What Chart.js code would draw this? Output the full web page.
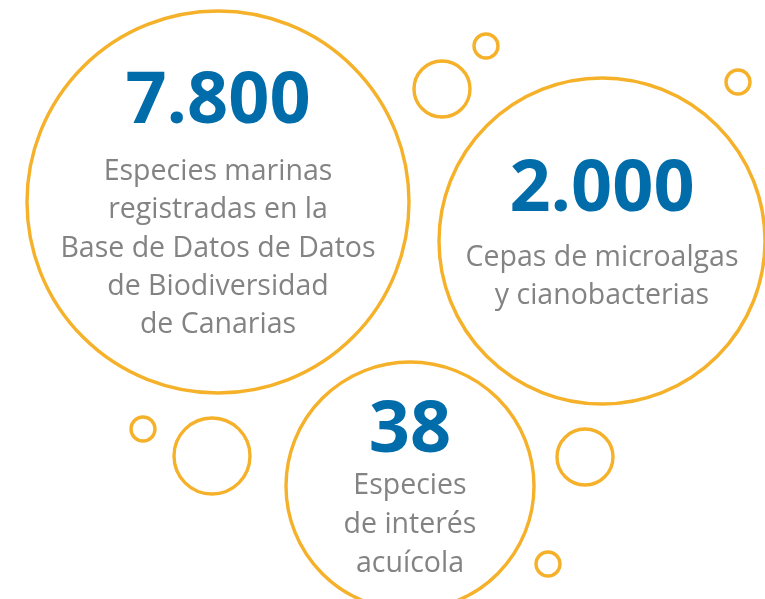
<!DOCTYPE html>
<html>
<head>
<meta charset="utf-8">
<script src="https://cdn.jsdelivr.net/npm/chart.js@4"></script>
<style>
  html, body { margin: 0; padding: 0; background: #ffffff; }
  #wrap { width: 765px; height: 599px; position: relative; }
</style>
</head>
<body>
<div id="wrap"><canvas id="chart"></canvas></div>
<script>
// big circles: headline figure + caption
const figures = ["7.800", "2.000", "38"];
const captions = [
    ["Especies marinas", "registradas en la", "Base de Datos de Datos", "de Biodiversidad", "de Canarias"],
    ["Cepas de microalgas", "y cianobacterias"],
    ["Especies", "de interés", "acuícola"]
];
const bigX = [218, 602, 410];
const bigY = [202, 241, 486];
const bigR = [191, 163, 124];

// decorative small bubbles
const smallX = [486, 442, 738, 143, 212, 585, 548];
const smallY = [46, 89, 82, 429, 456, 457, 564];
const smallR = [12, 28, 12, 12, 38, 28, 12];

const ORANGE = "#F5B12A";
const BLUE = "#006DAA";
const GREY = "#838383";

// where the figure baseline sits relative to the circle centre, and caption spacing
const figureOffset = [-79, -30, -34];
const captionGap = [57, 55, 42];
const lineHeight = [38.3, 38, 39];

const bubbleText = {
    id: "bubbleText",
    afterDatasetsDraw(chart) {
        const ctx = chart.ctx;
        const xs = chart.scales.x, ys = chart.scales.y;
        ctx.save();
        ctx.textAlign = "center";
        ctx.textBaseline = "alphabetic";
        figures.forEach((fig, i) => {
            const cx = xs.getPixelForValue(bigX[i]);
            const cy = ys.getPixelForValue(bigY[i]);
            let y = cy + figureOffset[i];
            ctx.fillStyle = BLUE;
            ctx.font = "bold 72px 'Open Sans'";
            ctx.fillText(fig, cx, y);
            y += captionGap[i];
            ctx.fillStyle = GREY;
            ctx.font = "28.5px 'Open Sans'";
            captions[i].forEach(line => {
                ctx.fillText(line, cx, y);
                y += lineHeight[i];
            });
        });
        ctx.restore();
    }
};

const toPoints = (xs, ys, rs) => xs.map((x, i) => ({ x: x, y: ys[i], r: rs[i] }));

new Chart(document.getElementById("chart"), {
    type: "bubble",
    data: {
        datasets: [
            {
                label: "Cifras",
                data: toPoints(bigX, bigY, bigR),
                backgroundColor: "rgba(255,255,255,0)",
                borderColor: ORANGE,
                borderWidth: 3.4,
                clip: false
            },
            {
                label: "Burbujas",
                data: toPoints(smallX, smallY, smallR),
                backgroundColor: "rgba(255,255,255,0)",
                borderColor: ORANGE,
                borderWidth: 3.4,
                clip: false
            }
        ]
    },
    options: {
        responsive: true,
        maintainAspectRatio: false,
        animation: false,
        events: [],
        layout: { padding: 0, autoPadding: false },
        scales: {
            x: { type: "linear", min: 0, max: 765, display: false },
            y: { type: "linear", min: 0, max: 599, reverse: true, display: false }
        },
        plugins: {
            legend: { display: false },
            tooltip: { enabled: false }
        }
    },
    plugins: [bubbleText]
});
</script>
</body>
</html>
